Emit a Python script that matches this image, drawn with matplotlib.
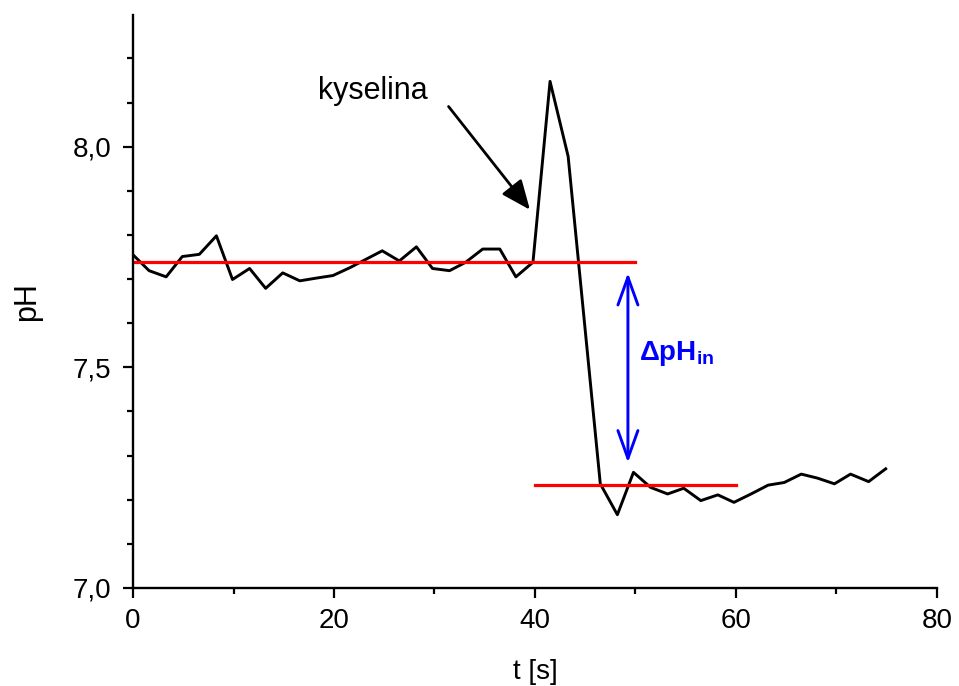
import matplotlib
matplotlib.use('Agg')
import matplotlib.pyplot as plt
from matplotlib.ticker import MultipleLocator, FuncFormatter

plt.rcParams['font.family'] = ['Liberation Sans', 'DejaVu Sans']
plt.rcParams['mathtext.fontset'] = 'custom'
plt.rcParams['mathtext.rm'] = 'Liberation Sans'
plt.rcParams['mathtext.bf'] = 'Liberation Sans:bold'

# measured pH trace
t = [0.0, 1.6, 3.3, 4.9, 6.6, 8.3, 9.9, 11.6, 13.2, 14.9, 16.6, 18.2,
     19.9, 21.6, 23.2, 24.8, 26.5, 28.2, 29.8, 31.5, 33.1, 34.8, 36.5,
     38.1, 39.8, 41.5, 43.3, 44.9, 46.5, 48.2, 49.8, 51.5, 53.2, 54.8,
     56.5, 58.2, 59.8, 61.5, 63.2, 64.8, 66.5, 68.1, 69.8, 71.4, 73.2, 74.9]
ph = [7.755, 7.719, 7.705, 7.751, 7.756, 7.798, 7.699, 7.724, 7.679, 7.714,
      7.696, 7.702, 7.708, 7.726, 7.745, 7.764, 7.741, 7.773, 7.724, 7.719,
      7.738, 7.768, 7.768, 7.705, 7.738, 8.148, 7.978, 7.607, 7.236, 7.166,
      7.262, 7.228, 7.213, 7.226, 7.198, 7.211, 7.194, 7.213, 7.233, 7.239,
      7.258, 7.249, 7.236, 7.258, 7.241, 7.270]

# baseline levels before / after the acid (t start, t end, pH)
level_before = (0, 50, 7.739)
level_after = (40, 60, 7.234)

fig = plt.figure(figsize=(9.59, 6.86), dpi=100)
ax = fig.add_axes([0.1387, 0.1429, 0.8383, 0.835])

ax.plot(t, ph, color='black', lw=2.1)
ax.plot(level_before[:2], [level_before[2]] * 2, color='red', lw=2.3)
ax.plot(level_after[:2], [level_after[2]] * 2, color='red', lw=2.3)

# delta pH arrow
ax.annotate('', xy=(49.25, 7.714), xytext=(49.25, 7.284),
            arrowprops=dict(arrowstyle='<->,head_length=1.0,head_width=0.36',
                            color='blue', lw=2.1, shrinkA=0, shrinkB=0,
                            mutation_scale=20))
ax.text(50.4, 7.516, r'$\mathbf{\Delta pH_{in}}$', color='blue', fontsize=20,
        va='baseline', ha='left')

# acid addition
ax.text(18.4, 8.109, 'kyselina', fontsize=22, va='baseline', ha='left')
ax.annotate('', xy=(39.5, 7.857), xytext=(31.4, 8.091),
            arrowprops=dict(arrowstyle='-|>,head_length=0.9,head_width=0.38',
                            color='black', lw=2.0, mutation_scale=20,
                            shrinkA=0, shrinkB=0))

ax.set_xlim(0, 80)
ax.set_ylim(7.0, 8.298)
ax.xaxis.set_major_locator(MultipleLocator(20))
ax.xaxis.set_minor_locator(MultipleLocator(10))
ax.yaxis.set_major_locator(MultipleLocator(0.5))
ax.yaxis.set_minor_locator(MultipleLocator(0.1))
ax.yaxis.set_major_formatter(FuncFormatter(lambda v, p: f'{v:.1f}'.replace('.', ',')))

for s in ['top', 'right']:
    ax.spines[s].set_visible(False)
for s in ['left', 'bottom']:
    ax.spines[s].set_linewidth(1.7)
ax.tick_params(which='major', direction='out', length=7.5, width=1.6,
               labelsize=20)
ax.tick_params(axis='x', which='major', pad=7)
ax.tick_params(axis='y', which='major', pad=8)
ax.tick_params(which='minor', direction='out', length=4, width=1.6)

ax.set_xlabel('t [s]', fontsize=20, labelpad=18)
ax.set_ylabel('pH', fontsize=22, labelpad=22)

fig.savefig('out.png', dpi=100)
